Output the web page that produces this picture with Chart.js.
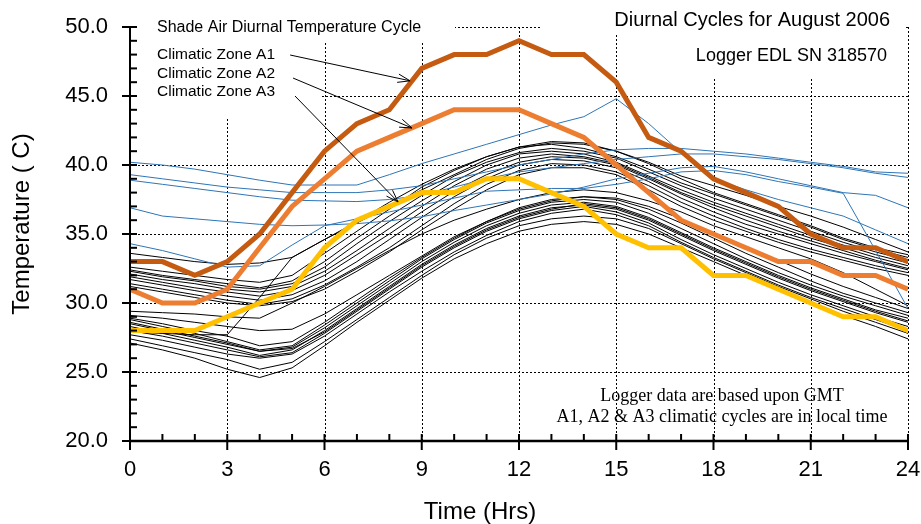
<!DOCTYPE html>
<html>
<head>
<meta charset="utf-8">
<script src="https://cdn.jsdelivr.net/npm/chart.js@4/dist/chart.umd.min.js"></script>
<style>
  html, body { margin: 0; padding: 0; background: #fff; }
</style>
</head>
<body>
<canvas id="chart" width="921" height="524"></canvas>
<script>
// hours of the day
const HOURS = [0,1,2,3,4,5,6,7,8,9,10,11,12,13,14,15,16,17,18,19,20,21,22,23,24];
const X_TICKS = [0,3,6,9,12,15,18,21,24];
const Y_TICKS = [20,25,30,35,40,45,50];

// climatic cycles (local time)
const ZONE_A1 = [33,33,32,33,35,38,41,43,44,47,48,48,49,48,48,46,42,41,39,38,37,35,34,34,33];
const ZONE_A2 = [31,30,30,31,34,37,39,41,42,43,44,44,44,43,42,40,38,36,35,34,33,33,32,32,31];
const ZONE_A3 = [28,28,28,29,30,31,34,36,37,38,38,39,39,38,37,35,34,34,32,32,31,30,29,29,28];

// logger days (GMT) - hot days in blue
const DAY_B1 = [40.2,40.0,39.7,39.3,38.9,38.55,38.55,38.55,39.3,40.1,40.8,41.5,42.2,42.9,43.5,44.8,43.0,40.9,39.0,38.2,37.5,36.9,36.3,35.3,34.3];
const DAY_B2 = [39.3,39.0,38.7,38.4,38.2,38.0,38.0,38.0,38.2,38.5,39.0,39.5,40.0,40.4,40.8,41.1,41.2,41.2,41.0,40.8,40.5,40.2,39.9,39.5,39.4];
const DAY_B3 = [38.9,38.6,38.3,38.0,37.7,37.45,37.4,37.35,37.5,37.8,38.4,39.0,39.5,39.8,40.1,40.4,40.6,40.8,40.8,40.6,40.4,40.1,39.8,39.4,39.1];
const DAY_B4 = [36.9,36.3,36.1,35.9,35.7,35.6,35.65,35.75,35.95,36.25,36.7,37.1,37.5,37.9,38.4,39.0,39.4,39.8,39.9,39.5,39.0,38.5,38.0,37.8,36.9];
const DAY_B5 = [34.3,33.8,33.2,32.6,32.7,34.2,35.6,36.1,36.6,37.1,37.6,38.1,38.2,38.3,38.3,38.6,39.0,39.5,39.6,39.3,38.8,38.4,37.95,33.8,29.6];

// logger days (GMT) - warm days
const DAY_W1 = [33.6,33.3,33.0,32.8,32.9,33.3,34.6,35.8,37.0,38.2,39.3,40.4,41.2,41.6,41.5,41.0,40.2,39.2,38.5,37.8,37.0,36.3,35.5,34.6,33.7];
const DAY_W2 = [32.6,32.3,32.0,31.7,31.5,32.0,33.6,35.2,36.8,38.4,39.6,40.6,41.3,41.5,41.2,40.6,39.7,38.7,37.9,37.1,36.3,35.5,34.6,33.9,33.3];
const DAY_W3 = [32.4,32.0,31.7,31.4,31.1,31.6,33.0,34.7,36.3,37.8,39.2,40.2,40.9,41.2,41.0,40.5,39.5,38.5,37.6,36.8,36.0,35.2,34.4,33.7,33.1];
const DAY_W4 = [32.3,31.9,31.6,31.2,31.0,31.4,32.6,34.3,35.9,37.4,38.8,40.0,40.8,41.0,40.8,40.2,39.2,38.2,37.3,36.5,35.7,34.9,34.2,33.5,32.9];
const DAY_W5 = [32.1,31.7,31.4,31.0,30.8,31.2,32.3,33.8,35.4,37.0,38.5,39.7,40.5,40.8,40.6,40.1,39.1,38.0,37.1,36.3,35.5,34.7,34.0,33.3,32.7];
const DAY_W6 = [31.9,31.5,31.1,30.8,30.5,30.9,32.0,33.5,35.0,36.6,38.1,39.3,40.2,40.6,40.5,40.0,39.0,37.9,36.9,36.0,35.2,34.5,33.8,33.1,32.5];
const DAY_W7 = [31.7,31.3,30.9,30.5,30.2,30.6,31.6,33.0,34.6,36.2,37.7,39.0,40.0,40.4,40.3,39.8,38.8,37.6,36.6,35.7,35.0,34.3,33.6,33.0,32.4];
const DAY_W8 = [31.4,31.0,30.6,30.2,29.9,30.3,31.3,32.6,34.0,35.6,37.2,38.6,39.6,40.1,40.0,39.5,38.5,37.3,36.3,35.4,34.6,33.9,33.3,32.7,32.2];
const DAY_W9 = [31.2,30.8,30.4,30.0,29.8,30.1,31.0,32.3,33.7,35.3,36.8,38.2,39.3,39.8,39.8,39.3,38.2,37.0,36.0,35.2,34.4,33.7,33.1,32.5,32.0];
const DAY_X1 = [27.9,27.8,27.7,27.7,30.4,33.3,34.6,35.9,37.3,38.6,39.7,40.6,41.3,41.7,41.6,41.0,40.1,39.0,38.0,37.2,36.4,35.6,34.7,34.0,33.5];

// logger days (GMT) - cooler days
const DAY_C1 = [29.4,29.3,29.2,29.0,28.9,30.0,31.2,32.5,33.8,35.0,36.0,36.8,37.5,38.0,38.2,38.0,37.4,36.6,35.6,34.8,34.0,33.2,32.2,31.0,29.8];
const DAY_C2 = [29.1,28.9,28.6,28.3,28.0,28.1,29.2,30.6,32.0,33.4,34.8,35.9,36.8,37.4,37.7,37.6,37.0,36.1,35.0,34.0,33.1,32.1,31.2,30.4,29.6];
const DAY_C3 = [28.9,28.5,28.0,27.6,26.9,27.2,28.6,30.2,31.8,33.3,34.7,35.9,36.9,37.5,37.7,37.5,36.8,35.8,34.7,33.6,32.6,31.6,30.7,30.0,29.3];
const DAY_C4 = [28.8,28.3,27.8,27.2,26.6,26.9,28.4,30.0,31.6,33.2,34.6,35.8,36.7,37.3,37.5,37.3,36.5,35.4,34.3,33.2,32.2,31.3,30.5,29.8,29.1];
const DAY_C5 = [28.5,28.0,27.5,27.0,26.5,26.8,28.2,29.8,31.4,33.0,34.4,35.6,36.5,37.1,37.3,37.0,36.2,35.1,34.0,33.0,32.0,31.1,30.3,29.5,28.9];
const DAY_C6 = [28.3,27.8,27.3,26.8,26.2,26.6,28.0,29.6,31.2,32.8,34.2,35.4,36.3,36.9,37.1,36.8,36.0,34.9,33.8,32.8,31.8,30.9,30.1,29.3,28.6];
const DAY_C7 = [28.0,27.6,27.1,26.6,26.1,26.4,27.8,29.4,31.0,32.6,34.0,35.2,36.1,36.7,37.0,36.6,35.8,34.6,33.5,32.5,31.5,30.6,29.8,29.0,28.3];
const DAY_C8 = [27.7,27.3,26.8,26.3,26.0,26.3,27.6,29.2,30.8,32.3,33.7,34.9,35.9,36.5,36.8,36.4,35.6,34.4,33.3,32.3,31.3,30.4,29.6,28.8,28.0];
const DAY_C9 = [27.4,26.9,26.4,25.9,25.2,25.7,27.2,28.8,30.4,32.0,33.5,34.7,35.6,36.1,36.3,36.1,35.4,34.3,33.2,32.2,31.2,30.3,29.4,28.6,27.8];
const DAY_C10 = [27.1,26.6,26.0,25.2,24.6,25.3,26.9,28.6,30.2,31.8,33.2,34.3,35.2,35.7,35.9,35.7,35.0,34.0,33.0,32.0,31.0,30.1,29.1,28.3,27.4];
const DAY_C11 = [28.6,28.1,27.6,27.1,26.5,26.7,27.9,29.5,31.1,32.7,34.1,35.3,36.2,36.8,37.2,36.9,36.1,35.0,33.9,32.9,31.9,31.0,30.2,29.4,28.7];

const BLUE_DAYS = [DAY_B1, DAY_B2, DAY_B3, DAY_B4, DAY_B5];
const BLACK_DAYS = [DAY_W1, DAY_W2, DAY_W3, DAY_W4, DAY_W5, DAY_W6, DAY_W7, DAY_W8, DAY_W9, DAY_X1,
  DAY_C1, DAY_C2, DAY_C3, DAY_C4, DAY_C5, DAY_C6, DAY_C7, DAY_C8, DAY_C9, DAY_C10, DAY_C11];

// annotation arrows: label tail -> line tip, in data units
const ARROW_TAILS = [[4.94, 47.97], [5.03, 46.30], [5.09, 45.0]];
const ARROW_TIPS = [[8.64, 46.1], [8.70, 42.68], [8.27, 37.32]];
const ZONE_LABELS = ['Climatic Zone A1', 'Climatic Zone A2', 'Climatic Zone A3'];

const toPoints = vals => HOURS.map((h, i) => ({ x: h, y: vals[i] }));

const thick = (label, vals, color) => ({
  label, data: toPoints(vals), borderColor: color, borderWidth: 5,
  pointRadius: 0, tension: 0, borderJoinStyle: 'miter', borderCapStyle: 'butt',
});
const thin = (vals, color) => ({
  data: toPoints(vals), borderColor: color, borderWidth: 1, pointRadius: 0, tension: 0,
});

const datasets = [
  thick('A1', ZONE_A1, '#C55A11'),
  thick('A2', ZONE_A2, '#ED7D31'),
  thick('A3', ZONE_A3, '#FFC000'),
  ...BLUE_DAYS.map(d => thin(d, '#2E75B6')),
  ...BLACK_DAYS.map(d => thin(d, '#000000')),
];

const SANS = '"Liberation Sans", Arial, sans-serif';
const SERIF = '"Liberation Serif", "Times New Roman", serif';

// areas behind the text blocks, blanking the grid
const TEXT_BOXES = [
  [131, 0, 455, 41],
  [131, 41, 320, 117],
  [540, 0, 905, 35],
  [690, 35, 905, 78],
];

const frame = {
  id: 'frame',
  beforeDatasetsDraw(chart) {
    const { ctx, chartArea: a, scales: { x, y } } = chart;
    ctx.save();
    ctx.strokeStyle = '#000';
    ctx.lineWidth = 1;
    ctx.setLineDash([2, 2]);
    X_TICKS.slice(1).forEach(v => {
      const px = Math.round(x.getPixelForValue(v)) + 0.5;
      ctx.beginPath(); ctx.moveTo(px, a.top); ctx.lineTo(px, a.bottom); ctx.stroke();
    });
    Y_TICKS.slice(1).forEach(v => {
      const py = Math.round(y.getPixelForValue(v)) + 0.5;
      ctx.beginPath(); ctx.moveTo(a.left, py); ctx.lineTo(a.right, py); ctx.stroke();
    });
    ctx.setLineDash([]);
    ctx.fillStyle = '#fff';
    TEXT_BOXES.forEach(([x0, y0, x1, y1]) => ctx.fillRect(x0, y0, x1 - x0, y1 - y0));
    ctx.restore();
  },
  afterDatasetsDraw(chart) {
    const { ctx, chartArea: a, scales: { x, y } } = chart;
    ctx.save();
    ctx.strokeStyle = '#000';
    ctx.fillStyle = '#000';

    // axes
    ctx.lineWidth = 2;
    ctx.beginPath(); ctx.moveTo(a.left, a.top); ctx.lineTo(a.left, a.bottom); ctx.stroke();
    ctx.lineWidth = 2.5;
    ctx.beginPath(); ctx.moveTo(a.left, a.bottom); ctx.lineTo(a.right, a.bottom); ctx.stroke();

    ctx.lineWidth = 2;
    for (let v = 20; v <= 50; v++) {
      const py = y.getPixelForValue(v);
      const major = v % 5 === 0;
      ctx.beginPath();
      ctx.moveTo(major ? a.left - 8 : a.left, py);
      ctx.lineTo(a.left + 7, py);
      ctx.stroke();
    }
    for (let h = 0; h <= 24; h++) {
      const px = x.getPixelForValue(h);
      const major = h % 3 === 0;
      ctx.beginPath();
      ctx.moveTo(px, a.bottom - 7);
      ctx.lineTo(px, major ? a.bottom + 9 : a.bottom);
      ctx.stroke();
    }

    // axis titles
    ctx.font = '24px ' + SANS;
    ctx.textAlign = 'center';
    ctx.textBaseline = 'alphabetic';
    ctx.fillText('Time (Hrs)', 480, 519);
    ctx.save();
    ctx.translate(29, 224);
    ctx.rotate(-Math.PI / 2);
    ctx.fillText('Temperature ( C)', 0, 0);
    ctx.restore();

    // titles
    ctx.textAlign = 'right';
    ctx.font = '20px ' + SANS;
    ctx.fillText('Diurnal Cycles for August 2006', 890, 26);
    ctx.font = '18px ' + SANS;
    ctx.fillText('Logger EDL SN 318570', 887, 61);

    ctx.textAlign = 'left';
    ctx.font = '16px ' + SANS;
    ctx.fillText('Shade Air Diurnal Temperature Cycle', 157, 32);
    ctx.font = '15.5px ' + SANS;
    ZONE_LABELS.forEach((t, i) => ctx.fillText(t, 157, 59 + i * 18.5));

    // arrows
    ctx.lineWidth = 1;
    ARROW_TAILS.forEach((tail, i) => {
      const x0 = x.getPixelForValue(tail[0]), y0 = y.getPixelForValue(tail[1]);
      const x1 = x.getPixelForValue(ARROW_TIPS[i][0]), y1 = y.getPixelForValue(ARROW_TIPS[i][1]);
      ctx.beginPath(); ctx.moveTo(x0, y0); ctx.lineTo(x1, y1); ctx.stroke();
      const ang = Math.atan2(y1 - y0, x1 - x0);
      ctx.beginPath();
      ctx.moveTo(x1 - 13 * Math.cos(ang - 0.33), y1 - 13 * Math.sin(ang - 0.33));
      ctx.lineTo(x1, y1);
      ctx.lineTo(x1 - 13 * Math.cos(ang + 0.33), y1 - 13 * Math.sin(ang + 0.33));
      ctx.stroke();
    });

    // note
    ctx.textAlign = 'center';
    ctx.font = '18px ' + SERIF;
    ctx.fillText('Logger data are based upon GMT', 722, 401);
    ctx.fillText('A1, A2 & A3 climatic cycles are in local time', 722, 422);
    ctx.restore();
  },
};

new Chart(document.getElementById('chart'), {
  type: 'line',
  data: { datasets },
  options: {
    responsive: false,
    animation: false,
    layout: { padding: { top: 27, right: 13, left: 0, bottom: 0 } },
    plugins: { legend: { display: false }, tooltip: { enabled: false } },
    scales: {
      x: {
        type: 'linear', min: 0, max: 24,
        afterBuildTicks: s => { s.ticks = X_TICKS.map(v => ({ value: v })); },
        afterFit: s => { s.height = 83; s.paddingLeft = 0; s.paddingRight = 0; },
        grid: { display: false, drawTicks: false },
        border: { display: false },
        ticks: { color: '#000', font: { family: SANS, size: 22 }, padding: 16, maxRotation: 0 },
      },
      y: {
        min: 20, max: 50,
        afterBuildTicks: s => { s.ticks = Y_TICKS.map(v => ({ value: v })); },
        afterFit: s => { s.width = 130; s.paddingTop = 0; s.paddingBottom = 0; },
        grid: { display: false, drawTicks: false },
        border: { display: false },
        ticks: { color: '#000', font: { family: SANS, size: 22 }, padding: 22, callback: v => v.toFixed(1) },
      },
    },
  },
  plugins: [frame],
});
</script>
</body>
</html>
